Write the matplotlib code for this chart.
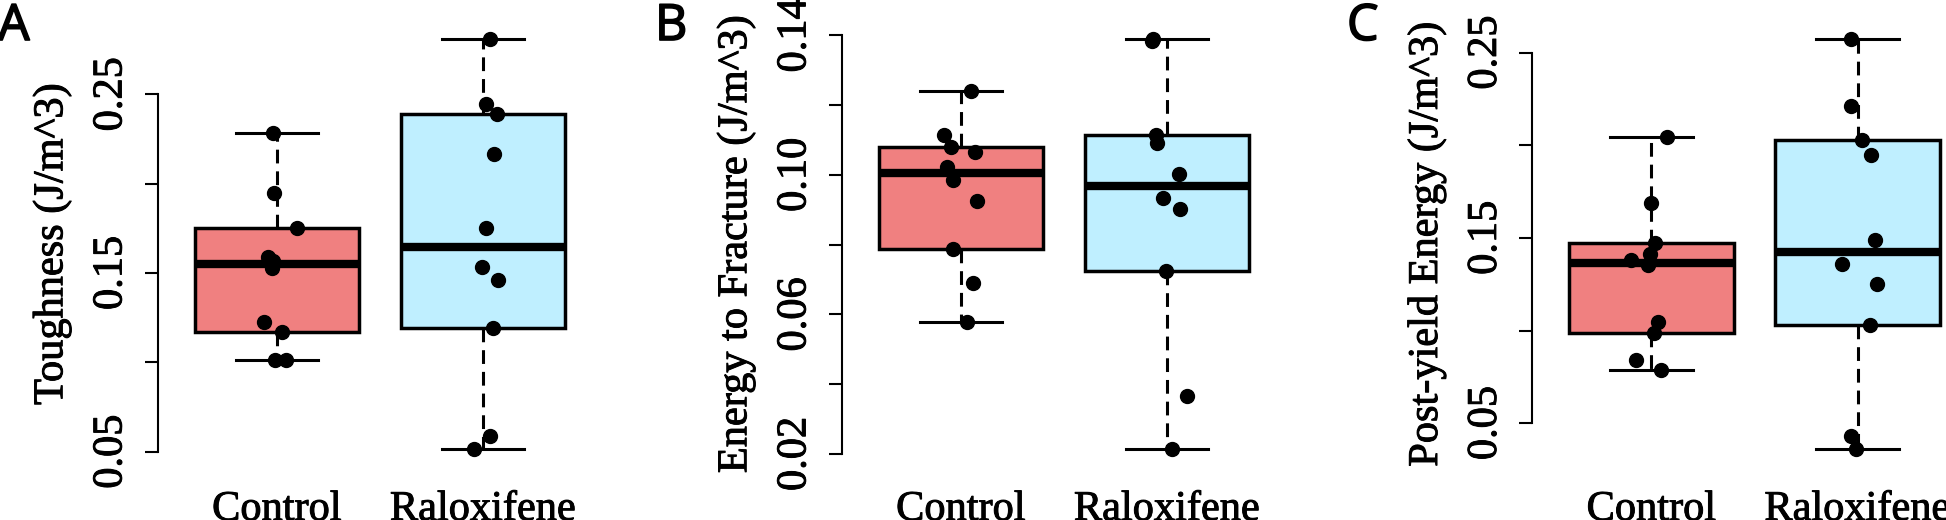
import numpy as np
import matplotlib
matplotlib.use("Agg")
import matplotlib.pyplot as plt
import matplotlib.patheffects as pe

# values (J/m^3), one list per group
groups = ["Control", "Raloxifene"]

tough_ctrl = [0.2285, 0.195, 0.1754, 0.159, 0.157, 0.1526, 0.1228, 0.117, 0.1015, 0.1015]
tough_ral = [0.281, 0.2446, 0.239, 0.2164, 0.1754, 0.1535, 0.146, 0.1194, 0.0588, 0.0515]

energy_ctrl = [0.124, 0.1115, 0.108, 0.1067, 0.1024, 0.0986, 0.0925, 0.0788, 0.069, 0.0578]
energy_ral = [0.139, 0.1385, 0.1115, 0.1091, 0.1002, 0.0934, 0.0903, 0.0726, 0.0365, 0.0214]

post_ctrl = [0.2043, 0.169, 0.1471, 0.1412, 0.1378, 0.1354, 0.1048, 0.0988, 0.0842, 0.0788]
post_ral = [0.2574, 0.2214, 0.2029, 0.1948, 0.1486, 0.136, 0.125, 0.103, 0.0432, 0.036]

# horizontal jitter of the dots
tough_ctrl_jit = [-0.02, -0.016, 0.095, -0.045, -0.02, -0.026, -0.065, 0.026, -0.01, 0.042]
tough_ral_jit = [0.032, 0.016, 0.069, 0.053, 0.016, -0.004, 0.073, 0.049, 0.035, -0.044]
energy_ctrl_jit = [0.048, -0.084, -0.05, 0.07, -0.07, -0.04, 0.08, -0.04, 0.057, 0.027]
energy_ral_jit = [-0.066, -0.075, -0.054, -0.048, 0.058, -0.019, 0.064, -0.003, 0.098, 0.023]
post_ctrl_jit = [0.077, -0.002, 0.015, -0.005, -0.1, -0.015, 0.03, 0.01, -0.073, 0.047]
post_ral_jit = [-0.03, -0.03, 0.02, 0.067, 0.087, -0.077, 0.095, 0.061, -0.03, -0.006]

ylabels = ["Toughness (J/m^3)", "Energy to Fracture (J/m^3)", "Post-yield Energy (J/m^3)"]
letters = ["A", "B", "C"]
yticks = [[0.05, 0.10, 0.15, 0.20, 0.25],
          [0.02, 0.04, 0.06, 0.08, 0.10, 0.12, 0.14],
          [0.05, 0.10, 0.15, 0.20, 0.25]]
ytick_labels = [["0.05", "", "0.15", "", "0.25"],
                ["0.02", "", "0.06", "", "0.10", "", "0.14"],
                ["0.05", "", "0.15", "", "0.25"]]

fill_colors = ["#F08080", "#BFEFFF"]
SERIF = "Liberation Serif"
FS = 30.5
thick = [pe.withStroke(linewidth=0.7, foreground="black")]


def hinge_stats(v):
    # Tukey five-number summary like R's boxplot
    s = np.sort(np.asarray(v, dtype=float))
    n = len(s)
    n4 = np.floor((n + 3) / 2) / 2
    d = np.array([1, n4, (n + 1) / 2, n + 1 - n4, n]) - 1
    f = 0.5 * (s[np.floor(d).astype(int)] + s[np.ceil(d).astype(int)])
    return dict(whislo=f[0], q1=f[1], med=f[2], q3=f[3], whishi=f[4], fliers=[])


W, H = 1946, 520
fig = plt.figure(figsize=(W / 100, H / 100), dpi=100)

panels = [(tough_ctrl, tough_ral, tough_ctrl_jit, tough_ral_jit),
          (energy_ctrl, energy_ral, energy_ctrl_jit, energy_ral_jit),
          (post_ctrl, post_ral, post_ctrl_jit, post_ral_jit)]
lefts = [157.5, 841.5, 1532]
letter_x = [-2, 655, 1347]

for i, (c, r, cj, rj) in enumerate(panels):
    ax = fig.add_axes([lefts[i] / W, (H - 465.5) / H, 445 / W, 443 / H])
    stats = [hinge_stats(c), hinge_stats(r)]
    bp = ax.bxp(stats, positions=[1, 2], widths=0.8, patch_artist=True,
                capwidths=0.4, showfliers=False,
                boxprops=dict(linewidth=2.5, edgecolor="black"),
                medianprops=dict(linewidth=6, color="black", solid_capstyle="butt"),
                whiskerprops=dict(linewidth=2.2, color="black", linestyle=(0, (4.5, 2.6))),
                capprops=dict(linewidth=2.2, color="black"))
    for patch, col in zip(bp["boxes"], fill_colors):
        patch.set_facecolor(col)

    for pos, vals, jit in [(1, c, cj), (2, r, rj)]:
        ax.plot(pos + np.array(jit), vals, "o", color="black", ms=10, zorder=5)

    allv = np.concatenate([c, r])
    lo, hi = allv.min(), allv.max()
    pad = 0.04 * (hi - lo)
    ax.set_ylim(lo - pad, hi + pad)
    ax.set_xlim(0.42, 2.58)

    for sp in ["top", "right", "bottom"]:
        ax.spines[sp].set_visible(False)
    ax.spines["left"].set_linewidth(1.5)
    ax.spines["left"].set_bounds(yticks[i][0], yticks[i][-1])

    ax.set_yticks(yticks[i])
    ax.set_yticklabels(ytick_labels[i], rotation=90, va="center", family=SERIF, fontsize=FS)
    ax.tick_params(axis="y", length=9.5, width=1.5, pad=10)
    ax.set_xticks([1, 2])
    ax.set_xticklabels(groups, family=SERIF, fontsize=FS)
    ax.tick_params(axis="x", length=0, pad=18)
    for t in ax.get_xticklabels() + ax.get_yticklabels():
        t.set_path_effects(thick)

    ax.text(-0.237, 0.5, ylabels[i], transform=ax.transAxes, rotation=90,
            ha="center", va="center", family=SERIF, fontsize=FS, path_effects=thick)

    fig.text(letter_x[i] / W, (H - 40) / H, letters[i], family="Open Sans",
             fontsize=36, ha="left", va="baseline",
             path_effects=[pe.withStroke(linewidth=1.2, foreground="black")])

fig.savefig("out.png", dpi=100)
